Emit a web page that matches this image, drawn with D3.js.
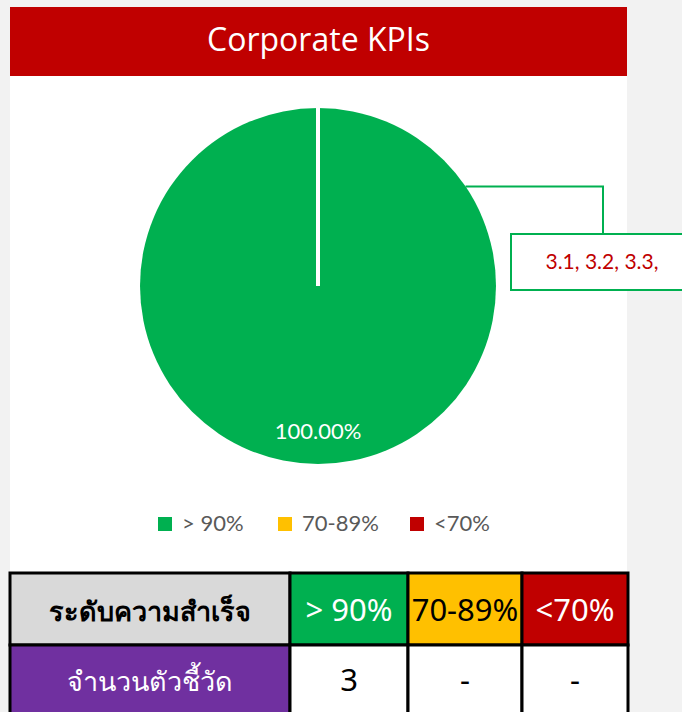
<!DOCTYPE html>
<html>
  <head>
    <meta charset='utf-8'>
    <script src='https://d3js.org/d3.v7.min.js'></script>
    <style>
body { margin: 0; background: #f2f2f2; }
svg { display: block; }
.title { font-family: 'Open Sans', sans-serif; }
.legend text { font-family: Lato, sans-serif; }
.tbl text { font-family: 'Liberation Sans Narrow', 'Noto Sans', sans-serif; }
    </style>
  </head>
  <body>
    <svg id='chart'></svg>
    <script>
        // data
        var title = 'Corporate KPIs';
        var categories = ['> 90%', '70-89%', '<70%'];
        var counts = [3, 0, 0];
        var colors = ['#00b050', '#ffc000', '#c00000'];
        var calloutText = '3.1, 3.2, 3.3,';
        var rowHeaders = ['ระดับความสำเร็จ', 'จำนวนตัวชี้วัด'];

        const W = 682, H = 712;
        var svg = d3.select('#chart').attr('width', W).attr('height', H);

        // white panel + header band
        svg.append('rect').attr('x', 10).attr('y', 7).attr('width', 617).attr('height', 565).attr('fill', '#fff');
        svg.append('rect').attr('x', 10).attr('y', 7).attr('width', 617).attr('height', 69).attr('fill', '#c00000');
        svg.append('text').attr('class', 'title')
           .attr('x', 318.5).attr('y', 51)
           .attr('text-anchor', 'middle')
           .attr('fill', '#fff').attr('font-size', 32)
           .text(title);

        // pie
        const cx = 318, cy = 286, R = 178;
        var pieData = d3.pie().sort(null).value(function(d){ return d.v; })
            (categories.map(function(c, i){ return { c: c, v: counts[i], color: colors[i] }; }))
            .filter(function(d){ return d.data.v > 0; });
        var total = d3.sum(counts);
        var arc = d3.arc().innerRadius(0).outerRadius(R);

        var pie_g = svg.append('g').attr('transform', 'translate(' + cx + ',' + cy + ')');
        pie_g.selectAll('path.slice').data(pieData).enter().append('path')
            .attr('class', 'slice')
            .attr('d', arc)
            .attr('fill', function(d){ return d.data.color; });

        // slice boundary (white separator from centre to slice start)
        pie_g.selectAll('line.sep').data(pieData).enter().append('line')
            .attr('x1', 0).attr('y1', 0)
            .attr('x2', function(d){ return R * Math.sin(d.startAngle); })
            .attr('y2', function(d){ return -R * Math.cos(d.startAngle); })
            .attr('stroke', '#fff').attr('stroke-width', 4);

        // percentage label
        pie_g.selectAll('text.pct').data(pieData).enter().append('text')
            .attr('x', 0).attr('y', R * 0.86)
            .attr('text-anchor', 'middle')
            .attr('fill', '#fff').attr('font-family', 'Lato, sans-serif').attr('font-size', 22)
            .text(function(d){ return (d.data.v / total * 100).toFixed(2) + '%'; });

        // callout
        var ang = 56 * Math.PI / 180;
        var px = cx + R * Math.sin(ang), py = cy - R * Math.cos(ang);
        svg.append('polyline')
           .attr('points', [[px, py], [603, py], [603, 234]].map(function(p){ return p.join(','); }).join(' '))
           .attr('fill', 'none').attr('stroke', '#00b050').attr('stroke-width', 2);
        svg.append('rect').attr('x', 511).attr('y', 234).attr('width', 180).attr('height', 56)
           .attr('fill', '#fff').attr('stroke', '#00b050').attr('stroke-width', 2);
        svg.append('text').attr('x', 602).attr('y', 269)
           .attr('text-anchor', 'middle').attr('fill', '#c00000')
           .attr('font-family', 'Lato, sans-serif').attr('font-size', 21)
           .text(calloutText);

        // legend
        var legendX = [158, 278, 410];
        var legend = svg.append('g').attr('class', 'legend');
        var li = legend.selectAll('g').data(categories).enter().append('g')
            .attr('transform', function(d, i){ return 'translate(' + legendX[i] + ',517)'; });
        li.append('rect').attr('width', 14).attr('height', 14)
            .attr('fill', function(d, i){ return colors[i]; });
        li.append('text').attr('x', 24).attr('y', 14)
            .attr('fill', '#595959').attr('font-size', 22)
            .text(function(d){ return d; });

        // table
        var colX = [10, 290, 408, 522, 628];
        var rowY = [573, 645, 717];
        var tbl = svg.append('g').attr('class', 'tbl');
        var cells = [];
        rowHeaders.forEach(function(h, r){
            cells.push({ r: r, c: 0, text: h, fill: r === 0 ? '#d9d9d9' : '#7030a0', color: r === 0 ? '#000' : '#fff', thai: true });
            categories.forEach(function(cat, i){
                if (r === 0) {
                    cells.push({ r: r, c: i + 1, text: cat, fill: colors[i], color: i === 1 ? '#000' : '#fff' });
                } else {
                    cells.push({ r: r, c: i + 1, text: counts[i] > 0 ? String(counts[i]) : '-', fill: '#fff', color: '#000' });
                }
            });
        });
        var cg = tbl.selectAll('g').data(cells).enter().append('g');
        cg.append('rect')
            .attr('x', function(d){ return colX[d.c]; })
            .attr('y', function(d){ return rowY[d.r]; })
            .attr('width', function(d){ return colX[d.c + 1] - colX[d.c]; })
            .attr('height', function(d){ return rowY[d.r + 1] - rowY[d.r]; })
            .attr('fill', function(d){ return d.fill; })
            .attr('stroke', '#000').attr('stroke-width', 3);
        cg.append('text')
            .attr('x', function(d){ return (colX[d.c] + colX[d.c + 1]) / 2; })
            .attr('y', function(d){ return d.r === 0 ? 621 : 691; })
            .attr('text-anchor', 'middle')
            .attr('fill', function(d){ return d.color; })
            .attr('font-size', function(d){ return d.thai ? 27 : 31; })
            .attr('font-weight', function(d){ return d.thai && d.r === 0 ? 'bold' : 'normal'; })
            .text(function(d){ return d.text; });
    </script>
  </body>
</html>
